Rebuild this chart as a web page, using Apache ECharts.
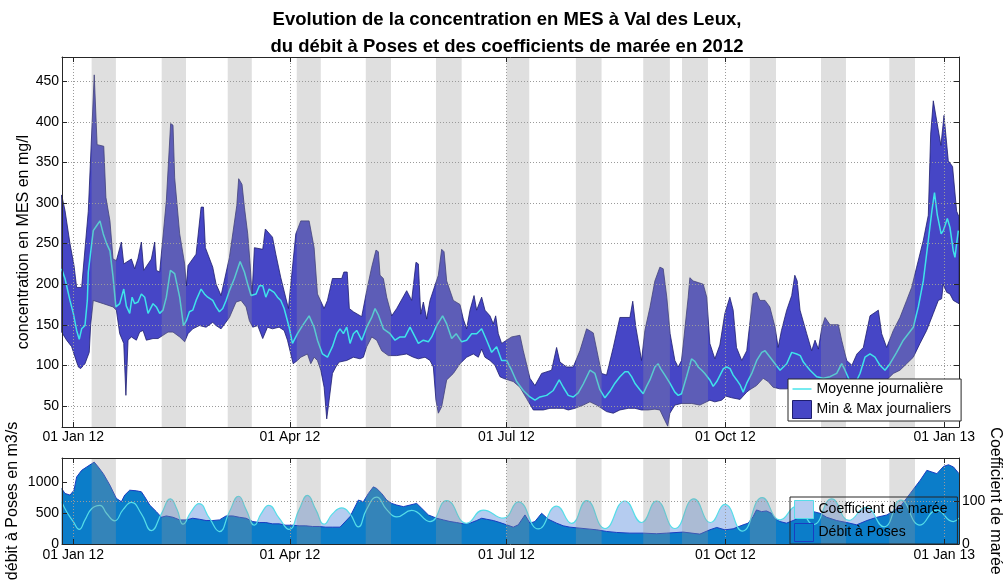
<!DOCTYPE html>
<html>
<head>
<meta charset="utf-8">
<script src="https://cdn.jsdelivr.net/npm/echarts@6/dist/echarts.min.js"></script>
<style>
html,body{margin:0;padding:0;background:#fff;}
#chart{width:1004px;height:580px;}
</style>
</head>
<body>
<div id="chart"></div>
<script>
// ---------- DATA (days counted from 2012-01-01) ----------
const titleText = 'Evolution de la concentration en MES à Val des Leux,\ndu débit à Poses et des coefficients de marée en 2012';
const xTickDates = ['2012-01-01', '2012-04-01', '2012-07-01', '2012-10-01', '2013-01-01'];
const xRangeDays = [-4.75, 372.2];
const mesTicks = [50, 100, 150, 200, 250, 300, 350, 400, 450];
const mesRange = [24, 480];
const debitTicks = [0, 500, 1000];
const debitRange = [0, 1400];
const coefTicks = [0, 100, 200];
const coefLabels = [0, 100];
const coefRange = [0, 200];

// spring-tide periods (grey bands) [startDay, endDay]
const springTides = [[7.7,17.9],[37.15,47.36],[64.9,75.0],[93.9,104.0],[122.9,133.5],[152.4,163.2],[182.1,191.6],[211.2,222.0],[239.5,250.7],[255.8,266.7],[284.3,295.3],[314.2,324.7],[342.9,353.7]];

// daily max of MES (mg/l)
const mesMax = [[-4.9,310],[-3.5,291],[-1.4,250],[0.3,223],[1.4,196],[3.5,196],[6.3,290],[8.8,458],[10.0,372],[12.8,370],[13.7,307],[15.4,278],[16.7,231],[18.1,229],[20.2,252],[21.2,225],[24.4,231],[25.8,219],[27.2,232],[28.6,252],[29.6,217],[32.8,231],[34.2,252],[34.9,217],[36.3,215],[39.1,303],[40.9,398],[41.9,396],[42.6,331],[44.7,262],[46.8,225],[47.5,198],[48.2,223],[51.6,237],[53.7,295],[54.7,295],[55.5,245],[58.6,221],[60.0,200],[62.1,186],[65.6,233],[68.7,297],[69.5,330],[70.9,323],[71.9,295],[73.3,262],[74.3,225],[75.1,186],[76.1,245],[79.6,243],[80.7,268],[83.7,258],[85.1,237],[87.2,208],[90.4,170],[93.5,262],[95.6,278],[99.1,278],[101.2,245],[102.6,188],[105.4,170],[106.8,180],[108.9,207],[112.8,207],[113.7,215],[115.1,215],[116.0,170],[117.7,166],[121.2,160],[123.3,192],[125.4,221],[127.2,242],[128.2,240],[128.9,211],[130.3,207],[131.7,184],[133.8,161],[135.9,170],[140.1,192],[142.2,180],[144.0,227],[145.0,225],[146.0,163],[147.1,178],[148.5,157],[149.9,180],[153.4,211],[154.8,243],[155.8,240],[156.9,204],[159.7,180],[162.5,175],[163.9,157],[165.3,145],[166.7,168],[168.4,186],[169.5,168],[171.6,184],[173.0,168],[175.1,161],[176.5,151],[177.5,161],[178.6,139],[180.0,127],[182.1,131],[184.2,135],[187.7,137],[189.1,118],[191.9,84],[194.0,75],[196.8,90],[201.0,94],[203.1,122],[204.5,104],[207.3,98],[210.1,98],[212.9,118],[215.7,145],[218.5,140],[220.6,110],[222.0,90],[224.1,88],[226.9,122],[229.7,159],[233.9,159],[235.1,179],[236.4,147],[238.8,106],[240.2,143],[242.3,171],[244.4,204],[246.5,221],[247.9,219],[249.4,184],[250.8,139],[252.8,106],[254.2,98],[255.6,106],[258.4,184],[259.1,208],[260.5,204],[262.6,202],[264.7,200],[266.2,184],[267.5,127],[269.6,108],[271.7,125],[273.8,164],[275.9,184],[277.3,168],[278.7,122],[280.9,106],[283.0,118],[285.7,188],[287.2,190],[288.5,180],[290.7,180],[292.7,172],[294.9,147],[296.2,122],[297.6,143],[299.8,168],[301.9,186],[303.2,211],[304.2,204],[305.4,168],[308.2,139],[310.3,118],[311.7,131],[313.1,120],[314.6,147],[315.9,159],[318.0,150],[321.5,150],[322.9,131],[325.0,106],[327.2,100],[329.3,114],[332.0,122],[334.8,161],[338.3,168],[339.7,139],[341.8,122],[344.6,143],[347.4,159],[350.2,180],[352.3,196],[354.4,221],[357.2,254],[359.3,285],[360.3,385],[361.4,426],[364.6,371],[365.9,408],[367.7,352],[369.5,345],[371.2,290],[372.2,283]];

// daily min of MES (mg/l)
const mesMin = [[-4.9,141],[-2.8,131],[-0.7,123],[0.3,114],[2.1,98],[3.1,96],[4.9,102],[6.7,116],[7.3,150],[8.4,180],[12.6,176],[16.7,172],[18.1,168],[19.5,139],[21.2,127],[22.1,63],[23.0,131],[24.4,135],[26.5,131],[27.9,141],[29.3,143],[30.7,131],[33.5,133],[35.6,133],[37.7,137],[39.8,141],[41.9,141],[44.7,135],[46.8,129],[48.2,139],[50.2,145],[53.0,149],[55.8,147],[58.6,153],[60.0,149],[62.1,145],[65.6,159],[68.4,178],[70.5,180],[72.6,172],[74.0,155],[75.4,147],[77.5,149],[79.6,133],[81.6,147],[83.7,145],[86.5,147],[88.6,143],[90.0,131],[91.4,114],[92.4,102],[94.2,106],[95.6,110],[98.4,114],[99.8,102],[101.2,110],[102.6,106],[104.0,94],[105.4,73],[106.5,34],[107.5,57],[108.9,90],[110.3,98],[111.7,104],[114.9,106],[117.7,110],[120.5,108],[121.9,110],[123.3,123],[125.4,135],[127.5,131],[129.6,118],[132.4,112],[135.9,112],[140.1,114],[142.9,110],[145.0,108],[147.8,110],[149.9,106],[151.3,98],[152.4,57],[153.4,41],[154.8,49],[156.9,82],[159.7,90],[162.5,102],[165.3,110],[168.1,114],[170.2,110],[171.6,120],[173.0,110],[175.1,106],[177.2,100],[179.3,86],[180.7,84],[182.8,82],[184.9,80],[187.7,73],[190.5,59],[193.3,45],[197.5,45],[200.3,47],[203.1,47],[205.9,47],[208.0,45],[210.8,47],[214.3,51],[217.1,55],[219.9,51],[222.0,47],[224.1,43],[226.9,41],[229.7,45],[233.2,47],[236.0,47],[238.8,45],[241.6,45],[244.4,46],[246.5,45],[248.6,32],[249.8,25],[250.7,41],[252.8,51],[255.6,53],[259.9,53],[263.3,51],[267.5,57],[269.6,55],[272.4,57],[274.3,62],[276.7,60],[280.2,58],[283.0,67],[284.3,70],[287.1,75],[289.9,84],[292.0,80],[294.1,73],[296.9,71],[299.8,71],[302.6,73],[305.4,80],[308.2,82],[311.0,80],[313.8,80],[316.6,78],[320.8,73],[323.6,71],[326.4,73],[330.6,77],[334.8,80],[339.0,80],[341.8,82],[344.6,90],[347.4,94],[350.2,102],[353.0,110],[355.8,127],[358.6,143],[361.4,164],[363.5,180],[364.9,182],[365.6,200],[367.0,190],[368.4,188],[369.8,180],[372.2,176]];

// daily mean of MES (mg/l)
const mesMean = [[-4.9,219],[-3.5,207],[-1.4,180],[0,164],[1.4,143],[2.5,132],[3.5,145],[4.9,149],[5.9,180],[6.3,215],[8.4,266],[9.8,272],[11.2,278],[12.6,262],[14.0,250],[15.4,241],[16.7,209],[17.9,172],[19.5,176],[21.2,194],[22.3,173],[23.7,164],[24.7,184],[25.8,176],[27.2,178],[28.6,188],[30.0,184],[31.4,164],[33.5,176],[34.9,172],[36.3,164],[37.7,168],[39.1,184],[40.8,217],[42.6,213],[44.7,184],[46.3,149],[47.5,155],[48.8,166],[50.2,168],[51.6,180],[53.7,194],[55.1,188],[56.5,184],[58.6,180],[60.0,172],[61.4,166],[62.8,170],[64.2,180],[65.6,192],[67.7,207],[70.1,228],[71.9,215],[73.3,200],[74.7,186],[76.8,188],[78.2,198],[79.6,198],[80.9,184],[82.3,194],[84.4,190],[85.8,184],[87.2,180],[88.6,170],[90.7,147],[92.1,127],[94.2,139],[96.3,149],[99.1,161],[101.2,147],[102.6,131],[104.7,114],[106.8,110],[108.9,123],[110.7,139],[112.1,145],[113.5,139],[114.9,147],[116.3,127],[117.7,139],[119.1,143],[121.2,131],[123.3,147],[125.4,159],[126.8,170],[128.2,162],[130.3,145],[133.1,139],[135.2,131],[137.3,135],[139.4,135],[141.5,147],[142.9,139],[145.0,127],[147.1,131],[149.2,129],[150.6,135],[152.7,149],[155.2,161],[156.9,151],[159.0,133],[160.9,139],[163.2,129],[165.3,131],[167.4,139],[169.5,139],[171.6,145],[173.7,131],[175.8,116],[177.9,123],[180.0,106],[182.1,106],[184.2,94],[186.3,80],[189.1,69],[191.9,61],[194.0,57],[196.1,61],[198.9,63],[201.7,69],[204.2,82],[205.9,73],[208.0,63],[210.1,61],[212.2,66],[214.3,77],[217.1,94],[219.2,90],[221.3,70],[223.4,60],[225.5,68],[227.6,78],[229.7,86],[231.8,92],[233.2,92],[234.6,86],[236.0,78],[238.1,70],[239.5,65],[240.9,74],[242.3,82],[244.4,98],[245.8,102],[246.8,96],[248.6,88],[250.7,78],[252.8,67],[254.2,63],[255.6,65],[257.7,86],[259.8,108],[261.2,105],[262.6,98],[264.1,94],[265.4,90],[267.5,82],[268.9,74],[270.4,80],[271.8,88],[273.2,96],[274.6,98],[276.0,96],[277.3,88],[278.8,82],[280.2,76],[281.5,67],[283.0,78],[285.1,90],[287.2,106],[289.3,116],[290.7,118],[292.8,110],[294.9,102],[297.0,94],[299.8,102],[301.9,116],[304.0,114],[305.5,112],[306.8,104],[309.6,94],[312.4,86],[315.2,84],[318.0,86],[320.8,90],[322.9,102],[324.3,94],[326.4,80],[328.5,77],[330.6,90],[332.7,110],[334.8,114],[336.9,110],[339.0,100],[341.1,94],[343.2,102],[346.0,116],[348.8,131],[350.9,139],[353.0,147],[355.1,172],[357.2,204],[359.3,254],[360.8,290],[361.9,313],[363.1,285],[364.7,262],[365.6,266],[367.3,281],[368.4,270],[369.8,241],[370.5,233],[371.9,266]];

// discharge at Poses (m3/s)
const debit = [[-4.9,903],[-3.5,823],[-1.4,796],[0.3,876],[1.4,1091],[3.5,1199],[5.6,1253],[7.7,1306],[8.8,1333],[10.5,1253],[12.6,1145],[15.4,957],[18.1,742],[20.2,688],[21.6,796],[23.7,876],[26.5,866],[28.6,850],[30.0,769],[32.1,634],[34.9,527],[37.0,435],[39.1,457],[41.9,435],[44.7,392],[47.5,392],[50.2,419],[53.0,403],[55.8,382],[58.6,382],[61.4,392],[64.2,457],[67.0,457],[69.8,435],[72.6,419],[75.4,366],[78.2,349],[80.9,349],[83.7,328],[86.5,328],[89.3,306],[92.1,306],[94.9,296],[97.7,296],[100.5,285],[103.3,285],[106.1,274],[108.9,274],[112.1,274],[116.3,446],[119.8,715],[121.9,688],[124.0,823],[126.1,930],[127.5,903],[129.6,823],[131.7,715],[133.8,661],[135.9,634],[138.7,608],[141.5,634],[144.3,661],[146.4,581],[149.2,473],[152.7,419],[155.5,392],[158.3,366],[161.1,349],[163.9,328],[166.7,339],[169.5,382],[171.6,419],[173.7,403],[176.5,382],[179.3,349],[182.1,312],[184.9,274],[187.0,312],[189.8,473],[191.9,339],[194.0,366],[196.8,500],[199.6,403],[203.1,339],[205.9,296],[208.7,274],[212.9,258],[217.1,242],[219.9,231],[224.1,204],[228.3,188],[233.9,177],[239.5,177],[245.1,167],[249.3,177],[256.3,194],[263.3,161],[267.5,231],[270.4,269],[273.8,231],[277.3,247],[281.5,312],[283.6,339],[285.7,446],[287.1,554],[289.2,527],[291.3,538],[293.4,500],[294.8,419],[296.9,366],[299.7,339],[302.5,382],[305.4,435],[308.2,473],[311.0,527],[313.8,500],[316.6,435],[320.8,382],[325.0,349],[329.2,312],[333.5,382],[337.7,435],[341.9,473],[347.5,608],[351.7,823],[355.9,1038],[358.7,1199],[360.8,1172],[362.9,1145],[365.7,1263],[367.8,1290],[369.9,1253],[372.2,1145]];

// tide coefficient
const coef = [[-4.9,98],[-2.8,75],[0,52],[2.5,34],[4.9,56],[7.7,82],[11.2,90],[14.0,71],[17.4,54],[20.9,80],[24.4,97],[28.6,70],[32.8,31],[37.0,70],[40.8,105],[43.6,80],[46.1,46],[49.5,75],[52.8,94],[57.2,60],[61.4,29],[65.6,75],[69.5,111],[72.6,80],[76.1,44],[78.9,70],[82.1,90],[86.5,60],[90.7,34],[94.9,80],[98.4,113],[101.9,80],[105.4,46],[108.9,70],[112.8,84],[116.3,70],[119.8,40],[123.2,80],[127.5,109],[131.7,80],[135.9,63],[142.2,78],[149.9,52],[156.9,101],[165.3,48],[172.3,79],[180.7,60],[187.0,98],[195.4,35],[203.1,88],[209.4,48],[215.7,101],[223.4,36],[231.8,100],[238.8,50],[245.1,100],[252.8,36],[260.8,105],[267.8,50],[273.8,92],[281.2,30],[289.5,108],[297.0,56],[304.0,88],[311.0,45],[318.7,105],[326.0,55],[333.0,85],[340.7,40],[347.8,102],[355.8,44],[362.8,79],[369.8,52],[372.2,60]];

// ---------- STYLES ----------
const FONT = '"Liberation Sans", Arial, Helvetica, sans-serif';
const BAND_FILL = '#4646c6';
const BAND_EDGE = '#1e1e6e';
const MEAN_COLOR = '#3fe3ea';
const COEF_FILL = '#b5ccf0';
const COEF_LINE = '#55dde8';
const DEBIT_FILL = '#0b7dc9';
const DEBIT_LINE = '#1a3cc0';
const SPRING_FILL = 'rgba(150,150,150,0.3)';
const AXIS_COLOR = '#262626';
const GRID_COLOR = '#9a9a9a';

const DAY = 86400000, T0 = Date.UTC(2012, 0, 1);
const t = d => T0 + d * DAY;
const toXY = arr => arr.map(p => [t(p[0]), p[1]]);
const xTicks = xTickDates.map(s => Date.parse(s + 'T00:00:00Z'));
const MONTHS = ['Jan','Feb','Mar','Apr','May','Jun','Jul','Aug','Sep','Oct','Nov','Dec'];
function fmtDate(v) {
  const d = new Date(v);
  return String(d.getUTCDate()).padStart(2, '0') + ' ' + MONTHS[d.getUTCMonth()] + ' ' + String(d.getUTCFullYear()).slice(2);
}
const plainNum = v => String(v);

const labelStyle = {color: '#000', fontSize: 14, fontFamily: FONT};
const dotted = {show: true, lineStyle: {color: GRID_COLOR, type: [1, 2], width: 1}};
const axLine = {show: true, onZero: false, lineStyle: {color: AXIS_COLOR, width: 1}};
const nameStyle = {color: '#000', fontSize: 16, fontFamily: FONT};

function xAxisFor(gi, bottom, margin) {
  return bottom ? {
    type: 'value', gridIndex: gi, position: 'bottom', min: t(xRangeDays[0]), max: t(xRangeDays[1]), z: 10,
    axisLine: axLine,
    axisTick: {show: true, inside: true, length: 5, customValues: xTicks, lineStyle: {color: AXIS_COLOR}},
    axisLabel: {show: true, customValues: xTicks, formatter: fmtDate, margin: margin, ...labelStyle, hideOverlap: false},
    splitLine: dotted
  } : {
    type: 'value', gridIndex: gi, position: 'top', min: t(xRangeDays[0]), max: t(xRangeDays[1]), z: 10,
    axisLine: axLine,
    axisTick: {show: true, inside: true, length: 5, customValues: xTicks, lineStyle: {color: AXIS_COLOR}},
    axisLabel: {show: false}, splitLine: {show: false}
  };
}

function bandRender(params, api) {
  if (params.dataIndex !== 0) return null;
  const up = mesMax.map(p => api.coord([t(p[0]), p[1]]));
  const lo = mesMin.slice().reverse().map(p => api.coord([t(p[0]), p[1]]));
  return {type: 'polygon', shape: {points: up.concat(lo)},
    style: {fill: BAND_FILL, stroke: BAND_EDGE, lineWidth: 0.8}};
}
function springRender(params, api) {
  const x0 = api.coord([api.value(0), 0])[0];
  const x1 = api.coord([api.value(1), 0])[0];
  const cs = params.coordSys;
  return {type: 'rect', shape: {x: x0, y: cs.y, width: x1 - x0, height: cs.height},
    style: {fill: SPRING_FILL}};
}

const chart = echarts.init(document.getElementById('chart'), null, {renderer: 'canvas'});
const option = {
  animation: false,
  backgroundColor: '#fff',
  textStyle: {fontFamily: FONT},
  title: {
    text: titleText, left: 507, top: 6, textAlign: 'center', padding: 0,
    textStyle: {fontSize: 18.5, fontWeight: 'bold', lineHeight: 27, color: '#000', fontFamily: FONT}
  },
  grid: [
    {left: 62, top: 57, width: 897, height: 370, outerBoundsMode: 'none', containLabel: false},
    {left: 62, top: 458, width: 897, height: 86, outerBoundsMode: 'none', containLabel: false}
  ],
  xAxis: [
    xAxisFor(0, true, 3),
    xAxisFor(0, false),
    xAxisFor(1, true, 4),
    xAxisFor(1, false)
  ],
  yAxis: [
    {type: 'value', gridIndex: 0, position: 'left', min: mesRange[0], max: mesRange[1], z: 10,
     name: 'concentration en MES en mg/l', nameLocation: 'middle', nameGap: 30, nameRotate: 90, nameMoveOverlap: false,
     nameTextStyle: nameStyle,
     axisLine: axLine,
     axisTick: {show: true, inside: true, length: 5, customValues: mesTicks, lineStyle: {color: AXIS_COLOR}},
     axisLabel: {customValues: mesTicks, margin: 3, formatter: plainNum, ...labelStyle},
     splitLine: dotted},
    {type: 'value', gridIndex: 0, position: 'right', min: mesRange[0], max: mesRange[1], z: 10,
     axisLine: axLine,
     axisTick: {show: true, inside: true, length: 5, customValues: mesTicks, lineStyle: {color: AXIS_COLOR}},
     axisLabel: {show: false}, splitLine: {show: false}},
    {type: 'value', gridIndex: 1, position: 'left', min: debitRange[0], max: debitRange[1], z: 10,
     name: 'débit à Poses en m3/s', nameLocation: 'middle', nameGap: 41, nameRotate: 90, nameMoveOverlap: false,
     nameTextStyle: nameStyle,
     axisLine: axLine,
     axisTick: {show: true, inside: true, length: 5, customValues: debitTicks, lineStyle: {color: AXIS_COLOR}},
     axisLabel: {customValues: debitTicks, margin: 3, formatter: plainNum, ...labelStyle},
     splitLine: {show: false}},
    {type: 'value', gridIndex: 1, position: 'right', min: coefRange[0], max: coefRange[1], z: 10,
     name: 'Coefficient de marée', nameLocation: 'middle', nameGap: 28, nameRotate: -90, nameMoveOverlap: false,
     nameTextStyle: nameStyle,
     axisLine: axLine,
     axisTick: {show: true, inside: true, length: 5, customValues: coefTicks, lineStyle: {color: AXIS_COLOR}},
     axisLabel: {customValues: coefLabels, margin: 3, formatter: plainNum, ...labelStyle},
     splitLine: dotted}
  ],
  legend: [
    {orient: 'vertical', left: 788, top: 379, z: 20, selectedMode: false,
     padding: [3, 10, 2, 4], itemGap: 4, itemWidth: 19, itemHeight: 18,
     backgroundColor: '#fff', borderColor: AXIS_COLOR, borderWidth: 1, borderRadius: 0,
     textStyle: {fontSize: 14, color: '#000', fontFamily: FONT},
     data: [
       {name: 'Moyenne journalière', icon: 'path://M0,0L40,0L40,3L0,3Z', itemStyle: {color: MEAN_COLOR, borderWidth: 0}},
       {name: 'Min & Max journaliers', icon: 'rect', itemStyle: {color: BAND_FILL, borderColor: BAND_EDGE, borderWidth: 1}}
     ]},
    {orient: 'vertical', left: 790, top: 497, z: 20, selectedMode: false,
     padding: [3, 10, 2, 4], itemGap: 4, itemWidth: 19, itemHeight: 18,
     backgroundColor: 'transparent', borderColor: AXIS_COLOR, borderWidth: 1, borderRadius: 0,
     textStyle: {fontSize: 14, color: '#000', fontFamily: FONT},
     data: [
       {name: 'Coefficient de marée', icon: 'rect', itemStyle: {color: COEF_FILL, borderColor: COEF_LINE, borderWidth: 1}},
       {name: 'Débit à Poses', icon: 'rect', itemStyle: {color: DEBIT_FILL, borderColor: DEBIT_LINE, borderWidth: 1}}
     ]}
  ],
  series: [
    {type: 'custom', name: 'Min & Max journaliers', xAxisIndex: 0, yAxisIndex: 0, z: 2, silent: true,
     itemStyle: {color: BAND_FILL},
     data: [[t(mesMax[0][0]), mesMax[0][1]]], renderItem: bandRender},
    {type: 'line', name: 'Moyenne journalière', xAxisIndex: 0, yAxisIndex: 0, z: 3, silent: true,
     symbol: 'none', data: toXY(mesMean), lineStyle: {color: MEAN_COLOR, width: 1.5}, itemStyle: {color: MEAN_COLOR}},
    {type: 'custom', name: 'spring-top', xAxisIndex: 0, yAxisIndex: 0, z: 5, silent: true,
     data: springTides.map(b => [t(b[0]), t(b[1])]), encode: {x: [0, 1]}, renderItem: springRender},

    {type: 'line', name: 'Coefficient de marée', xAxisIndex: 2, yAxisIndex: 3, z: 2, silent: true,
     symbol: 'none', smooth: 0.5, data: toXY(coef),
     lineStyle: {width: 0, color: COEF_LINE}, areaStyle: {color: COEF_FILL, opacity: 1}, itemStyle: {color: COEF_FILL}},
    {type: 'line', name: 'Débit à Poses', xAxisIndex: 2, yAxisIndex: 2, z: 3, silent: true,
     symbol: 'none', data: toXY(debit),
     lineStyle: {width: 1, color: DEBIT_LINE}, areaStyle: {color: DEBIT_FILL, opacity: 1}, itemStyle: {color: DEBIT_FILL}},
    {type: 'line', name: 'coef-line', xAxisIndex: 2, yAxisIndex: 3, z: 4, silent: true,
     symbol: 'none', smooth: 0.5, data: toXY(coef),
     lineStyle: {width: 1.2, color: COEF_LINE}},
    {type: 'custom', name: 'spring-bottom', xAxisIndex: 2, yAxisIndex: 2, z: 5, silent: true,
     data: springTides.map(b => [t(b[0]), t(b[1])]), encode: {x: [0, 1]}, renderItem: springRender}
  ]
};
chart.setOption(option);
</script>
</body>
</html>
